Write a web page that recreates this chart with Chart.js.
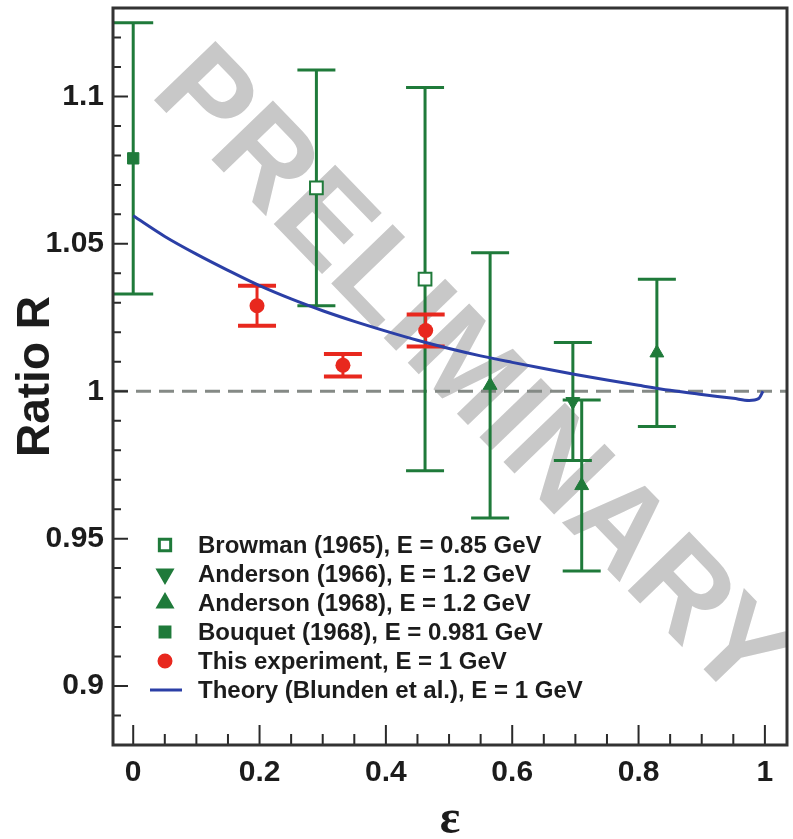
<!DOCTYPE html>
<html>
<head>
<meta charset="utf-8">
<script src="https://cdn.jsdelivr.net/npm/chart.js@4.4.1/dist/chart.umd.min.js"></script>
<style>
  html, body { margin: 0; padding: 0; background: #ffffff; }
  #wrap { width: 793px; height: 839px; }
</style>
</head>
<body>
<div id="wrap"><canvas id="ratioChart" width="793" height="839"></canvas></div>
<script>
// Axis limits and tick labels
const xMin = -0.032, xMax = 1.035;
const yMin = 0.88, yMax = 1.13;
const xTicks = [0, 0.2, 0.4, 0.6, 0.8, 1];
const xTickLabels = ["0", "0.2", "0.4", "0.6", "0.8", "1"];
const yTicks = [0.9, 0.95, 1, 1.05, 1.1];
const yTickLabels = ["0.9", "0.95", "1", "1.05", "1.1"];

// Browman (1965), E = 0.85 GeV
const browmanX = [0.29, 0.462];
const browmanY = [1.069, 1.038];
const browmanErr = [0.040, 0.065];

// Anderson (1966), E = 1.2 GeV
const anderson66X = [0.696];
const anderson66Y = [0.9965];
const anderson66Err = [0.020];

// Anderson (1968), E = 1.2 GeV
const anderson68X = [0.565, 0.71, 0.829];
const anderson68Y = [1.002, 0.968, 1.013];
const anderson68Err = [0.045, 0.029, 0.025];

// Bouquet (1968), E = 0.981 GeV
const bouquetX = [0.0];
const bouquetY = [1.079];
const bouquetErr = [0.046];

// This experiment, E = 1 GeV
const expX = [0.196, 0.332, 0.463];
const expY = [1.029, 1.0088, 1.0206];
const expErr = [0.0068, 0.0038, 0.0054];

// Theory (Blunden et al.), E = 1 GeV
const theoryX = [0, 0.05, 0.1, 0.15, 0.2, 0.25, 0.3, 0.35, 0.4, 0.45, 0.5, 0.55, 0.6, 0.65, 0.7, 0.75, 0.8, 0.85, 0.9, 0.95, 0.975, 0.99, 0.997];
const theoryY = [1.0595, 1.0525, 1.0465, 1.041, 1.0358, 1.0313, 1.0273, 1.0237, 1.0204, 1.0173, 1.0145, 1.0120, 1.0098, 1.0077, 1.0057, 1.0038, 1.0020, 1.0003, 0.9989, 0.9976, 0.9969, 0.9975, 1.0];

// R = 1 reference line
const refX = [xMin, xMax];
const refY = [1, 1];

const green = "#1f7a3a";
const red = "#e8281e";
const blue = "#2b3fa6";
const textColor = "#1c1c1c";

const legendItems = [
  { label: "Browman (1965), E = 0.85 GeV", style: "rect", radius: 8, fill: "#ffffff", stroke: green, rotation: 0 },
  { label: "Anderson (1966), E = 1.2 GeV", style: "triangle", radius: 8, fill: green, stroke: green, rotation: 180 },
  { label: "Anderson (1968), E = 1.2 GeV", style: "triangle", radius: 8, fill: green, stroke: green, rotation: 0 },
  { label: "Bouquet (1968), E = 0.981 GeV", style: "rect", radius: 7, fill: green, stroke: green, rotation: 0 },
  { label: "This experiment, E = 1 GeV", style: "circle", radius: 6, fill: red, stroke: red, rotation: 0 },
  { label: "Theory (Blunden et al.), E = 1 GeV", style: "line", stroke: blue }
];

function toPoints(xs, ys) {
  return xs.map((x, i) => ({ x: x, y: ys[i] }));
}

const watermark = {
  id: "watermark",
  beforeDatasetsDraw(chart) {
    const { ctx, chartArea } = chart;
    ctx.save();
    ctx.beginPath();
    ctx.rect(chartArea.left, chartArea.top, chartArea.right - chartArea.left, chartArea.bottom - chartArea.top);
    ctx.clip();
    ctx.translate(468, 376);
    ctx.rotate(46 * Math.PI / 180);
    ctx.fillStyle = "#c8c8c8";
    ctx.font = "bold 124px 'Liberation Sans', Arial, sans-serif";
    ctx.textAlign = "center";
    ctx.textBaseline = "middle";
    ctx.fillText("PRELIMINARY", 0, 0);
    ctx.restore();
  }
};

const errorBars = {
  id: "errorBars",
  beforeDatasetDraw(chart, args) {
    const ds = chart.data.datasets[args.index];
    if (!ds.errors) return;
    const yScale = chart.scales.y;
    const ctx = chart.ctx;
    ctx.save();
    ctx.strokeStyle = ds.barColor;
    args.meta.data.forEach((pt, i) => {
      const v = ds.data[i].y;
      const e = ds.errors[i];
      const top = yScale.getPixelForValue(v + e);
      const bot = yScale.getPixelForValue(v - e);
      ctx.lineWidth = 3;
      ctx.beginPath();
      ctx.moveTo(pt.x, top);
      ctx.lineTo(pt.x, bot);
      ctx.stroke();
      ctx.lineWidth = ds.capWidth;
      ctx.beginPath();
      ctx.moveTo(pt.x - ds.capHalf, top);
      ctx.lineTo(pt.x + ds.capHalf, top);
      ctx.moveTo(pt.x - ds.capHalf, bot);
      ctx.lineTo(pt.x + ds.capHalf, bot);
      ctx.stroke();
    });
    ctx.restore();
  }
};

const frameAndLegend = {
  id: "frameAndLegend",
  afterDraw(chart) {
    const { ctx, chartArea } = chart;
    const xs = chart.scales.x;
    const ys = chart.scales.y;
    ctx.save();

    // tick marks inside the frame
    ctx.strokeStyle = "#2a2a2a";
    ctx.lineWidth = 2;
    ctx.beginPath();
    for (let k = 0; k <= 20; k++) {
      const px = xs.getPixelForValue(k * 0.05);
      const len = (k % 4 === 0) ? 20 : 11;
      ctx.moveTo(px, chartArea.bottom);
      ctx.lineTo(px, chartArea.bottom - len);
    }
    for (let k = 88; k <= 113; k++) {
      const py = ys.getPixelForValue(k / 100);
      const len = (k % 5 === 0) ? 15 : 8;
      ctx.moveTo(chartArea.left, py);
      ctx.lineTo(chartArea.left + len, py);
    }
    ctx.stroke();

    // frame
    ctx.lineWidth = 3;
    ctx.strokeStyle = "#333333";
    ctx.strokeRect(chartArea.left, chartArea.top, chartArea.right - chartArea.left, chartArea.bottom - chartArea.top);

    // legend
    const markX = 165, textX = 198, rowY0 = 545, rowStep = 29;
    ctx.font = "bold 24px 'Liberation Sans', Arial, sans-serif";
    ctx.textBaseline = "middle";
    ctx.textAlign = "left";
    legendItems.forEach((item, i) => {
      const yy = rowY0 + i * rowStep;
      if (item.style === "line") {
        ctx.strokeStyle = item.stroke;
        ctx.lineWidth = 3;
        ctx.beginPath();
        ctx.moveTo(150, yy);
        ctx.lineTo(182, yy);
        ctx.stroke();
      } else {
        ctx.fillStyle = item.fill;
        ctx.strokeStyle = item.stroke;
        Chart.helpers.drawPoint(ctx, {
          pointStyle: item.style,
          radius: item.radius,
          rotation: item.rotation,
          borderWidth: 2
        }, markX, yy);
      }
      ctx.fillStyle = textColor;
      ctx.fillText(item.label, textX, yy + 1);
    });
    ctx.restore();
  }
};

const ctx = document.getElementById("ratioChart");
new Chart(ctx, {
  type: "scatter",
  data: {
    datasets: [
      {
        label: "Theory",
        data: toPoints(theoryX, theoryY),
        showLine: true,
        borderColor: blue,
        borderWidth: 3,
        pointRadius: 0,
        cubicInterpolationMode: "monotone",
        fill: false
      },
      {
        label: "This experiment",
        data: toPoints(expX, expY),
        errors: expErr,
        barColor: red,
        capHalf: 19,
        capWidth: 4,
        pointStyle: "circle",
        pointRadius: 7.5,
        backgroundColor: red,
        borderColor: red,
        borderWidth: 0
      },
      {
        label: "Bouquet (1968)",
        data: toPoints(bouquetX, bouquetY),
        errors: bouquetErr,
        barColor: green,
        capHalf: 20,
        capWidth: 3,
        pointStyle: "rect",
        pointRadius: 8,
        backgroundColor: green,
        borderColor: green,
        borderWidth: 1
      },
      {
        label: "Anderson (1968)",
        data: toPoints(anderson68X, anderson68Y),
        errors: anderson68Err,
        barColor: green,
        capHalf: 19,
        capWidth: 3,
        pointStyle: "triangle",
        pointRadius: 8,
        backgroundColor: green,
        borderColor: green,
        borderWidth: 1
      },
      {
        label: "Anderson (1966)",
        data: toPoints(anderson66X, anderson66Y),
        errors: anderson66Err,
        barColor: green,
        capHalf: 19,
        capWidth: 3,
        pointStyle: "triangle",
        rotation: 180,
        pointRadius: 8,
        backgroundColor: green,
        borderColor: green,
        borderWidth: 1
      },
      {
        label: "Browman (1965)",
        data: toPoints(browmanX, browmanY),
        errors: browmanErr,
        barColor: green,
        capHalf: 19,
        capWidth: 3,
        pointStyle: "rect",
        pointRadius: 9,
        backgroundColor: "#ffffff",
        borderColor: green,
        borderWidth: 2
      },
      {
        label: "R = 1",
        data: toPoints(refX, refY),
        showLine: true,
        borderColor: "#858a86",
        borderWidth: 3,
        borderDash: [15, 8],
        pointRadius: 0,
        fill: false
      }
    ]
  },
  options: {
    responsive: false,
    animation: false,
    events: [],
    layout: { autoPadding: false, padding: { top: 8, right: 6, left: 0, bottom: 0 } },
    plugins: {
      legend: { display: false },
      tooltip: { enabled: false }
    },
    scales: {
      x: {
        type: "linear",
        min: xMin,
        max: xMax,
        afterFit(scale) {
          scale.height = 94;
          scale.paddingLeft = 0;
          scale.paddingRight = 0;
        },
        afterBuildTicks(scale) { scale.ticks = xTicks.map((v) => ({ value: v })); },
        grid: { display: false, drawTicks: false },
        border: { display: false },
        ticks: {
          autoSkip: false,
          maxRotation: 0,
          padding: 10,
          color: textColor,
          font: { family: "'Liberation Sans', Arial, sans-serif", size: 30, weight: "bold" },
          callback: (v) => xTickLabels[xTicks.indexOf(v)]
        },
        title: {
          display: true,
          text: "ε",
          color: textColor,
          font: { family: "'Liberation Serif', 'DejaVu Serif', serif", size: 48, weight: "bold", lineHeight: 1 },
          padding: { top: 0, bottom: -6 }
        }
      },
      y: {
        type: "linear",
        min: yMin,
        max: yMax,
        afterFit(scale) {
          scale.width = 113;
          scale.paddingTop = 0;
          scale.paddingBottom = 0;
        },
        afterBuildTicks(scale) { scale.ticks = yTicks.map((v) => ({ value: v })); },
        grid: { display: false, drawTicks: false },
        border: { display: false },
        ticks: {
          autoSkip: false,
          padding: 9,
          color: textColor,
          font: { family: "'Liberation Sans', Arial, sans-serif", size: 30, weight: "bold" },
          callback: (v) => yTickLabels[yTicks.indexOf(v)]
        },
        title: {
          display: true,
          text: "Ratio R",
          color: textColor,
          font: { family: "'Liberation Sans', Arial, sans-serif", size: 46, weight: "bold", lineHeight: 1 },
          padding: { top: 13, bottom: 0 }
        }
      }
    }
  },
  plugins: [watermark, errorBars, frameAndLegend]
});
</script>
</body>
</html>
